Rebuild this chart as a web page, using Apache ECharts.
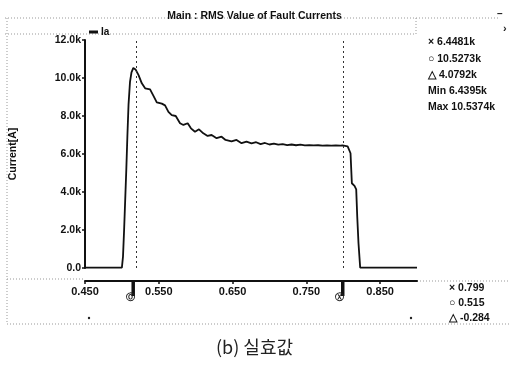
<!DOCTYPE html>
<html>
<head>
<meta charset="utf-8">
<script src="https://cdn.jsdelivr.net/npm/echarts@6/dist/echarts.min.js"></script>
<style>
html,body{margin:0;padding:0;background:#fff;}
#c{width:509px;height:365px;}
</style>
</head>
<body>
<div id="c"></div>
<script>
// ---- data (time in s, current in kA) ----
const times = [0.450, 0.470, 0.490, 0.500, 0.5015, 0.503, 0.5045, 0.506, 0.5075, 0.509, 0.511, 0.513, 0.5155,
  0.5185, 0.5226, 0.527, 0.5315, 0.5382, 0.5428, 0.5473, 0.5541, 0.5585, 0.5631, 0.5676, 0.573, 0.5788, 0.5834,
  0.5892, 0.5936, 0.5991, 0.6045, 0.6104, 0.6162, 0.6216, 0.6284, 0.6351, 0.6405, 0.6486, 0.6554, 0.6622, 0.6689,
  0.6757, 0.682, 0.688, 0.694, 0.700, 0.706, 0.712, 0.718, 0.724, 0.730, 0.736, 0.742, 0.748, 0.754, 0.760, 0.766,
  0.772, 0.778, 0.784, 0.790, 0.796, 0.799, 0.806, 0.8099, 0.8117, 0.8153, 0.8176, 0.819, 0.8207, 0.823, 0.850,
  0.875, 0.900];
const currentIa = [0.02, 0.02, 0.02, 0.02, 0.6, 2.0, 3.6, 5.2, 7.0, 8.6, 9.8, 10.3, 10.53,
  10.45, 10.15, 9.72, 9.46, 9.40, 9.06, 8.72, 8.65, 8.56, 8.22, 8.04, 8.00, 7.62, 7.53,
  7.62, 7.35, 7.17, 7.30, 7.09, 6.95, 7.00, 6.83, 6.91, 6.74, 6.66, 6.74, 6.57, 6.65,
  6.56, 6.62, 6.52, 6.58, 6.50, 6.55, 6.49, 6.52, 6.47, 6.50, 6.46, 6.49, 6.45, 6.47, 6.45, 6.46,
  6.44, 6.45, 6.44, 6.45, 6.44, 6.448, 6.40, 6.04, 4.46, 4.32, 4.14, 2.7, 1.3, 0.02, 0.02,
  0.02, 0.02];
const xTickValues = [0.45, 0.55, 0.65, 0.75, 0.85];
const xTickLabels = ['0.450', '0.550', '0.650', '0.750', '0.850'];
const yTickValues = [0, 2, 4, 6, 8, 10, 12];
const yTickLabels = ['0.0', '2.0k', '4.0k', '6.0k', '8.0k', '10.0k', '12.0k'];
const cursorO = 0.515;
const cursorX = 0.799;
const infoRight = ['\u00d7 6.4481k', '\u25cb 10.5273k', '\u25b3 4.0792k', 'Min 6.4395k', 'Max 10.5374k'];
const infoBottom = ['\u00d7 0.799', '\u25cb 0.515', '\u25b3 -0.284'];
const titleText = 'Main : RMS Value of Fault Currents';
const seriesName = 'Ia';
const yName = 'Current[A]';
const caption = '(b) \uc2e4\ud6a8\uac12';

const FONT = '"Liberation Sans", Arial, sans-serif';
const chart = echarts.init(document.getElementById('c'), null, {renderer: 'canvas'});
const seriesData = times.map((t, i) => [t, currentIa[i]]);

const dotted = {stroke: '#999', lineWidth: 1, lineDash: [1, 2]};
const decor = [
  {type: 'line', shape: {x1: 5, y1: 18, x2: 500, y2: 18}, style: dotted, z: 1},
  {type: 'line', shape: {x1: 5, y1: 34, x2: 416, y2: 34}, style: dotted},
  {type: 'line', shape: {x1: 416, y1: 18, x2: 416, y2: 34}, style: dotted},
  {type: 'line', shape: {x1: 7, y1: 18, x2: 7, y2: 324}, style: dotted},
  {type: 'line', shape: {x1: 7, y1: 279, x2: 83, y2: 279}, style: dotted},
  {type: 'line', shape: {x1: 417, y1: 281, x2: 509, y2: 281}, style: dotted},
  {type: 'line', shape: {x1: 7, y1: 324, x2: 509, y2: 324}, style: dotted},
  {type: 'text', style: {text: '\u2013', x: 497, y: 9, font: 'bold 10px ' + FONT, fill: '#222'}},
  {type: 'text', style: {text: '\u203a', x: 503, y: 23, font: 'bold 11px ' + FONT, fill: '#222'}},
  {type: 'circle', shape: {cx: 89, cy: 318, r: 1.2}, style: {fill: '#222'}},
  {type: 'circle', shape: {cx: 411, cy: 318, r: 1.2}, style: {fill: '#222'}}
];
infoRight.forEach((t, i) => {
  decor.push({type: 'text', style: {text: t, x: 428, y: 37 + i * 16.2, font: 'bold 10.5px ' + FONT, fill: '#111'}});
});
infoBottom.forEach((t, i) => {
  decor.push({type: 'text', style: {text: t, x: 449, y: 283 + i * 15, font: 'bold 10.5px ' + FONT, fill: '#111'}});
});

chart.setOption({
  animation: false,
  backgroundColor: '#fff',
  title: [
    {text: titleText, left: 'center', top: 6, textStyle: {fontSize: 10.5, fontWeight: 'bold', fontFamily: FONT, color: '#111'}},
    {text: caption, left: 'center', top: 333, textStyle: {fontSize: 18, fontWeight: 'normal', fontFamily: '"Noto Sans CJK KR", sans-serif', color: '#222'}}
  ],
  legend: {
    left: 84, top: 22, itemWidth: 9, itemHeight: 3, itemGap: 4, icon: 'rect',
    textStyle: {fontSize: 10, fontWeight: 'bold', fontFamily: FONT, color: '#111', padding: [0, 0, 0, -2]},
    data: [seriesName]
  },
  grid: {left: 83, right: 92, top: 40, bottom: 97, containLabel: false},
  xAxis: {
    type: 'value', min: 0.45, max: 0.9, offset: 13,
    axisLine: {show: true, onZero: false, lineStyle: {color: '#111', width: 2}},
    axisTick: {show: true, customValues: xTickValues, length: 3, inside: false, lineStyle: {color: '#111', width: 1.5}},
    axisLabel: {
      customValues: xTickValues, margin: 5,
      formatter: v => { const i = xTickValues.findIndex(x => Math.abs(x - v) < 1e-6); return i >= 0 ? xTickLabels[i] : ''; },
      fontSize: 11, fontWeight: 'bold', fontFamily: FONT, color: '#111'
    },
    splitLine: {show: false}
  },
  yAxis: {
    type: 'value', min: 0, max: 12, interval: 2,
    name: yName, nameLocation: 'middle', nameRotate: 90, nameGap: 66,
    nameTextStyle: {fontSize: 10.5, fontWeight: 'bold', fontFamily: FONT, color: '#111'},
    axisLine: {show: true, onZero: false, lineStyle: {color: '#111', width: 2}},
    axisTick: {show: true, length: 3, lineStyle: {color: '#111', width: 1.5}},
    axisLabel: {
      margin: 4,
      formatter: v => { const i = yTickValues.indexOf(v); return i >= 0 ? yTickLabels[i] : ''; },
      fontSize: 10.5, fontWeight: 'bold', fontFamily: FONT, color: '#111'
    },
    splitLine: {show: false}
  },
  series: [{
    name: seriesName, type: 'line', data: seriesData, showSymbol: false, smooth: false,
    lineStyle: {color: '#111', width: 1.8}, itemStyle: {color: '#111'},
    markLine: {
      silent: true, symbol: 'none', label: {show: false},
      lineStyle: {color: '#333', width: 1, type: [2, 3]},
      data: [{xAxis: cursorO}, {xAxis: cursorX}]
    }
  }],
  graphic: decor
});

const handles = [cursorO, cursorX].map((c, k) => {
  const px = chart.convertToPixel({xAxisIndex: 0}, c);
  return [
    {type: 'rect', shape: {x: px - 1.5, y: 281, width: 3.5, height: 15}, style: {fill: '#111'}},
    {type: 'text', style: {text: k === 0 ? '\u24c4' : '\u24cd', x: px - 7, y: 293, font: 'bold 9px ' + FONT, fill: '#222'}}
  ];
}).flat();
chart.setOption({graphic: decor.concat(handles)});
</script>
</body>
</html>
